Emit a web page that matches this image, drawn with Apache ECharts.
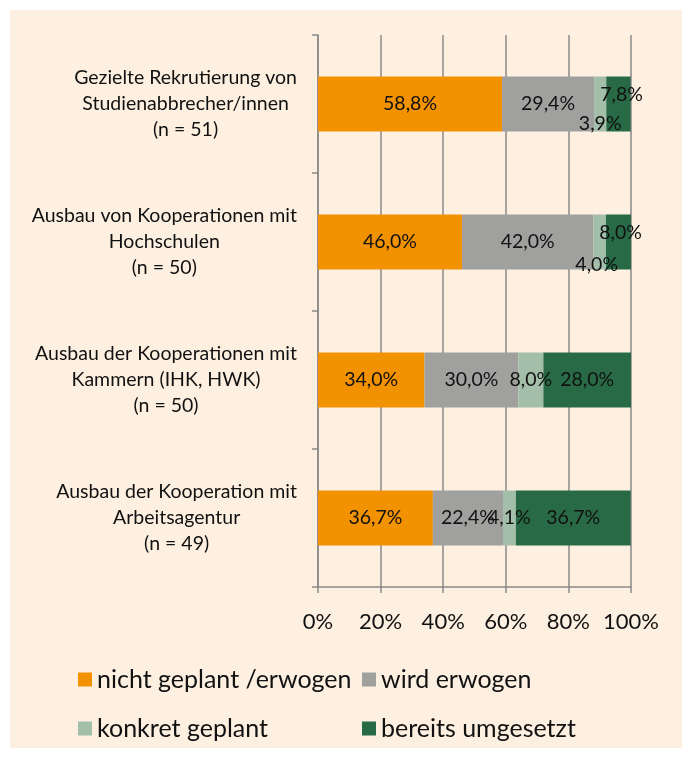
<!DOCTYPE html>
<html>
<head>
<meta charset="utf-8">
<script src="https://cdn.jsdelivr.net/npm/echarts@6/dist/echarts.min.js"></script>
<style>html,body{margin:0;padding:0;background:#fff;}#c{width:692px;height:758px;}</style>
</head>
<body>
<div id="c"></div>
<script>
const categories = [
  "Gezielte Rekrutierung von\nStudienabbrecher/innen\n(n = 51)",
  "Ausbau von Kooperationen mit\nHochschulen\n(n = 50)",
  "Ausbau der Kooperationen mit\nKammern (IHK, HWK)\n(n = 50)",
  "Ausbau der Kooperation mit\nArbeitsagentur\n(n = 49)"
];
const seriesNames = ["nicht geplant /erwogen", "wird erwogen", "konkret geplant", "bereits umgesetzt"];
const nichtGeplant = [58.8, 46.0, 34.0, 36.7];
const wirdErwogen = [29.4, 42.0, 30.0, 22.4];
const konkretGeplant = [3.9, 4.0, 8.0, 4.1];
const bereitsUmgesetzt = [7.8, 8.0, 28.0, 36.7];
const xTicks = [0, 20, 40, 60, 80, 100];

const colors = ["#F39200", "#A0A09F", "#A3BFAA", "#276A45"];
// label offsets for crowded small segments: [seriesIndex][dataIndex]
const labelOffsets = {
  2: {0: [0, 20], 1: [-3, 23]},
  3: {0: [3, -9], 1: [2, -9]}
};
const allValues = [nichtGeplant, wirdErwogen, konkretGeplant, bereitsUmgesetzt];
const FONT = "Lato";

const fmt = v => v.toFixed(1).replace('.', ',') + '%';

const series = allValues.map((vals, si) => ({
  name: seriesNames[si],
  type: 'bar',
  stack: 'total',
  barWidth: 55,
  itemStyle: {color: colors[si]},
  label: {
    show: true, position: 'inside', color: '#111', fontFamily: FONT, fontSize: 19.5,
    formatter: p => fmt(p.value)
  },
  data: vals.map((v, di) => {
    const off = labelOffsets[si] && labelOffsets[si][di];
    return off ? {value: v, label: {offset: off}} : {value: v};
  })
}));

// legend layout: 2 columns x 2 rows
const legendPos = [[73, 662], [357, 662], [73, 711], [357, 711]];
const legends = seriesNames.map((n, i) => ({
  data: [n], left: legendPos[i][0], top: legendPos[i][1], icon: 'rect',
  itemWidth: 14, itemHeight: 14,
  textStyle: {fontFamily: FONT, fontSize: 25, color: '#111'}
}));

const chart = echarts.init(document.getElementById('c'), null, {renderer: 'canvas'});
chart.setOption({
  backgroundColor: '#ffffff',
  animation: false,
  color: colors,
  graphic: [{
    type: 'rect', z: -100, silent: true,
    shape: {x: 10, y: 10, width: 672, height: 738},
    style: {fill: '#FDF0E1'}
  }],
  grid: {left: 318, right: 61, top: 35, bottom: 171, containLabel: false},
  xAxis: {
    type: 'value', min: 0, max: 100, interval: 20,
    axisLine: {show: true, lineStyle: {color: '#8a8a8a', width: 1.5}},
    axisTick: {show: true, length: 6, lineStyle: {color: '#8a8a8a', width: 1.5}},
    splitLine: {show: true, lineStyle: {color: '#8a8a8a', width: 1.5}},
    axisLabel: {
      color: '#111', fontFamily: FONT, fontSize: 22, margin: 24,
      formatter: v => xTicks.includes(v) ? v + '%' : ''
    }
  },
  yAxis: {
    type: 'category', inverse: true, data: categories,
    axisLine: {show: true, lineStyle: {color: '#8a8a8a', width: 1.5}},
    axisTick: {show: true, length: 6, lineStyle: {color: '#8a8a8a', width: 1.5}},
    axisLabel: {
      margin: 21, color: '#111', fontFamily: FONT, fontSize: 19.5,
      formatter: v => v.split('\n').map(l => '{a|' + l + '}').join('\n'),
      rich: {a: {align: 'center', fontFamily: FONT, fontSize: 19.5, lineHeight: 26, color: '#111'}}
    }
  },
  legend: legends,
  series: series
});
</script>
</body>
</html>
